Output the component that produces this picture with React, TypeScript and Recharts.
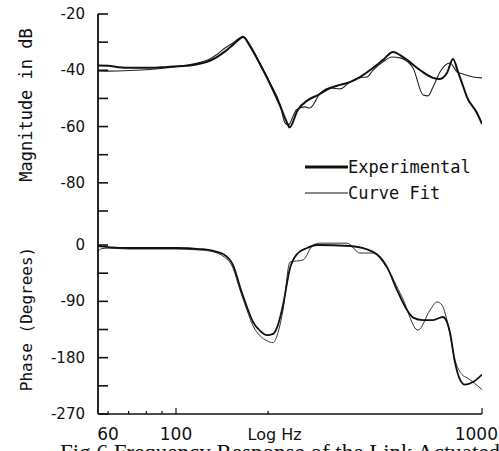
import React from 'react';
import { LineChart, Line, XAxis, YAxis, Legend } from 'recharts';

// ---------- data (frequency in Hz, magnitude in dB, phase in degrees) ----------
const magExpFreq = [55.6, 60, 65, 70.7, 82.2, 93.5, 111, 120, 129, 136, 145, 154, 160, 165.6, 174.5, 188, 203, 219, 231, 235, 250, 270, 291, 319, 344, 370, 399, 440, 475, 512, 540, 569, 627, 692, 729, 768, 804, 835, 867, 893, 963, 1000];
const magExpVal = [-38.3, -38.4, -38.9, -39.1, -39.1, -38.8, -38.3, -37.6, -36.6, -35.3, -33.2, -30.8, -29.2, -28.2, -31.4, -37.8, -44.9, -52.7, -58.8, -60.3, -54.1, -50.6, -48.8, -46.3, -45.2, -44.2, -42.4, -39.2, -36.3, -33.5, -34.6, -36.3, -39.9, -42.7, -43.1, -41.0, -36.0, -40.6, -45.6, -49.5, -55.2, -59.1];

const magFitFreq = [55.6, 60, 70.7, 82.2, 93.5, 111, 120, 129, 136, 145, 154, 160, 165.6, 174.5, 188, 203, 219, 227, 233, 241, 247, 263, 274, 296, 319, 344, 370, 399, 421, 440, 475, 508, 540, 595, 642, 666, 692, 729, 786, 829, 867, 935, 1000];
const magFitVal = [-40.2, -40.3, -40.1, -39.7, -39.1, -38.0, -37.2, -36.0, -34.4, -32.0, -30.2, -28.8, -27.9, -31.0, -37.4, -44.5, -52.3, -58.7, -59.5, -56.5, -54.1, -53.0, -53.4, -48.1, -46.3, -46.6, -44.2, -42.6, -42.4, -40.0, -37.0, -35.3, -35.6, -39.2, -48.8, -49.1, -45.9, -40.6, -37.4, -40.6, -41.3, -42.4, -42.7];

const phaseExpFreq = [55.6, 60, 70.7, 82.2, 100, 119.8, 129.1, 136.2, 142.4, 153.6, 161.9, 170.6, 178.5, 188.2, 198.3, 207.5, 213.8, 223.7, 235.8, 248.6, 268, 288.9, 370.4, 440.4, 489.2, 527.6, 568.8, 595.1, 641.7, 691.6, 745.6, 786, 816.3, 847.5, 880, 934.6, 1000];
const phaseExpVal = [-1.6, -3.2, -4.8, -4.8, -4.8, -6.4, -8, -11, -14.4, -32, -67, -99, -123, -137, -144, -142, -132, -96, -37, -14.4, -4.8, 0, -1.6, -11, -35, -72, -104, -116, -120, -120, -115, -140, -188, -215, -223, -219, -207];

const phaseFitFreq = [55.6, 57, 60, 70.7, 82.2, 100, 119.8, 129.1, 136.2, 142.4, 153.6, 161.9, 170.6, 178.5, 188.2, 198.3, 207.5, 213.8, 223.7, 235.8, 260, 280.4, 295.6, 362.2, 399.3, 440.4, 489.2, 547.7, 617.8, 676.2, 712.8, 740.1, 768.5, 816.3, 860.3, 893.3, 1000];
const phaseFitVal = [-10, -6, -5, -6.4, -6.4, -6.4, -8, -9.6, -12.8, -17.6, -37, -72, -104, -129, -145, -153, -156, -145, -104, -27, -24, 0, 3, 3, -12.8, -12.8, -37, -83, -136, -104, -91, -96, -120, -184, -207, -212, -231];

// ---------- axis ticks ----------
const freqTicks = [60, 70, 80, 90, 100, 200, 1000];
const freqLabels = [60, 100, 1000];
const freqMajor = [100, 1000];
const magTicks = [-20, -30, -40, -50, -60, -70, -80, -90];
const magLabels = [-20, -40, -60, -80];
const phaseTicks = [0, -45, -90, -135, -180, -225, -270];
const phaseLabels = [0, -90, -180, -270];

const freqDomain = [55.6, 1000];
const magDomain = [-96.76, -20];
const phaseDomain = [-270, 24];

const zip = (fs: number[], vs: number[]) => fs.map((f, i) => ({ f, v: vs[i] }));
const magExp = zip(magExpFreq, magExpVal);
const magFit = zip(magFitFreq, magFitVal);
const phaseExp = zip(phaseExpFreq, phaseExpVal);
const phaseFit = zip(phaseFitFreq, phaseFitVal);

const INK = '#111';
const SANS = '"DejaVu Sans", sans-serif';
const MONO = '"DejaVu Sans Mono", monospace';

const makeYTick = (labels: number[]) => (props: any) => {
  const { x, y, payload } = props;
  const v = payload.value;
  return (
    <g>
      <line x1={x} x2={x + 10} y1={y} y2={y} stroke={INK} strokeWidth={1.6} />
      {labels.includes(v) && (
        <text x={x - 13} y={y} textAnchor="end" dominantBaseline="central" fontFamily={SANS} fontSize={15} fill={INK}>
          {String(v)}
        </text>
      )}
    </g>
  );
};

const XTick = (props: any) => {
  const { x, y, payload } = props;
  const v = payload.value;
  const len = freqMajor.includes(v) ? 6 : 3;
  const isLast = v === freqTicks[freqTicks.length - 1];
  return (
    <g>
      <line x1={x} x2={x} y1={y} y2={y - len} stroke={INK} strokeWidth={1.2} />
      {freqLabels.includes(v) && (
        <text x={isLast ? x + 16 : x} y={y + 26} textAnchor={isLast ? 'end' : 'middle'} fontFamily={SANS} fontSize={17} fill={INK}>
          {String(v)}
        </text>
      )}
    </g>
  );
};

const legendContent = () => (
  <div style={{ fontFamily: MONO, fontSize: 17, color: INK, lineHeight: '26px' }}>
    <div style={{ display: 'flex', alignItems: 'center', height: 26 }}>
      <svg width={43} height={6} style={{ display: 'block' }}>
        <line x1={0} x2={43} y1={3} y2={3} stroke={INK} strokeWidth={3} />
      </svg>
      <span>Experimental</span>
    </div>
    <div style={{ display: 'flex', alignItems: 'center', height: 26 }}>
      <svg width={43} height={6} style={{ display: 'block' }}>
        <line x1={0} x2={43} y1={3} y2={3} stroke={INK} strokeWidth={1} />
      </svg>
      <span>Curve Fit</span>
    </div>
  </div>
);

const yTitle = (text: string, cx: number, cy: number, size: number) => () => (
  <text x={cx} y={cy} transform={`rotate(-90 ${cx} ${cy})`} textAnchor="middle" dominantBaseline="central" fontFamily={MONO} fontSize={size} fill={INK}>
    {text}
  </text>
);

const xTitle = (props: any) => {
  const vb = props.viewBox || { x: 98, y: 184, width: 384 };
  return (
    <text x={vb.x + vb.width * 0.46} y={vb.y + 26} textAnchor="middle" fontFamily={SANS} fontSize={16} fill={INK}>
      Log Hz
    </text>
  );
};

export default function App() {
  return (
    <div style={{ position: 'absolute', left: 0, top: 0, width: 499, height: 451, overflow: 'hidden', background: '#fff' }}>
      <div style={{ position: 'absolute', left: 0, top: 0 }}>
        <LineChart width={499} height={230} margin={{ top: 14, right: 17, bottom: 0, left: 0 }}>
          <XAxis dataKey="f" type="number" scale="log" domain={freqDomain} allowDataOverflow hide />
          <YAxis
            type="number"
            domain={magDomain}
            allowDataOverflow
            ticks={magTicks}
            interval={0}
            width={98}
            tickSize={0}
            tickMargin={0}
            tickLine={false}
            axisLine={{ stroke: INK, strokeWidth: 1.8 }}
            tick={makeYTick(magLabels)}
            label={{ content: yTitle('Magnitude in dB', 26, 105, 17) }}
          />
          <Legend
            layout="horizontal"
            verticalAlign="middle"
            align="center"
            content={legendContent}
            wrapperStyle={{ left: 305, top: 154, width: 'auto', height: 'auto' }}
          />
          <Line data={magFit} dataKey="v" type="monotone" stroke="#222" strokeWidth={1.1} dot={false} isAnimationActive={false} />
          <Line data={magExp} dataKey="v" type="monotone" stroke={INK} strokeWidth={2} dot={false} isAnimationActive={false} />
        </LineChart>
      </div>
      <div style={{ position: 'absolute', left: 0, top: 230 }}>
        <LineChart width={499} height={221} margin={{ top: 0, right: 17, bottom: 0, left: 0 }}>
          <XAxis
            dataKey="f"
            type="number"
            scale="log"
            domain={freqDomain}
            allowDataOverflow
            ticks={freqTicks}
            interval={0}
            height={37}
            tickSize={0}
            tickMargin={0}
            tickLine={false}
            axisLine={{ stroke: INK, strokeWidth: 1.6 }}
            tick={XTick}
            label={{ content: xTitle }}
          />
          <YAxis
            type="number"
            domain={phaseDomain}
            allowDataOverflow
            ticks={phaseTicks}
            interval={0}
            width={98}
            tickSize={0}
            tickMargin={0}
            tickLine={false}
            axisLine={{ stroke: INK, strokeWidth: 1.8 }}
            tick={makeYTick(phaseLabels)}
            label={{ content: yTitle('Phase (Degrees)', 26, 89, 16) }}
          />
          <Line data={phaseFit} dataKey="v" type="monotone" stroke="#333" strokeWidth={1} dot={false} isAnimationActive={false} />
          <Line data={phaseExp} dataKey="v" type="monotone" stroke={INK} strokeWidth={1.8} dot={false} isAnimationActive={false} />
        </LineChart>
      </div>
      <svg width={499} height={451} style={{ position: 'absolute', left: 0, top: 0, pointerEvents: 'none' }}>
        <text x={60} y={460} fontFamily='"Liberation Serif", serif' fontSize={23} fill={INK}>
          Fig.6 Frequency Response of the Link Actuated
        </text>
      </svg>
    </div>
  );
}
